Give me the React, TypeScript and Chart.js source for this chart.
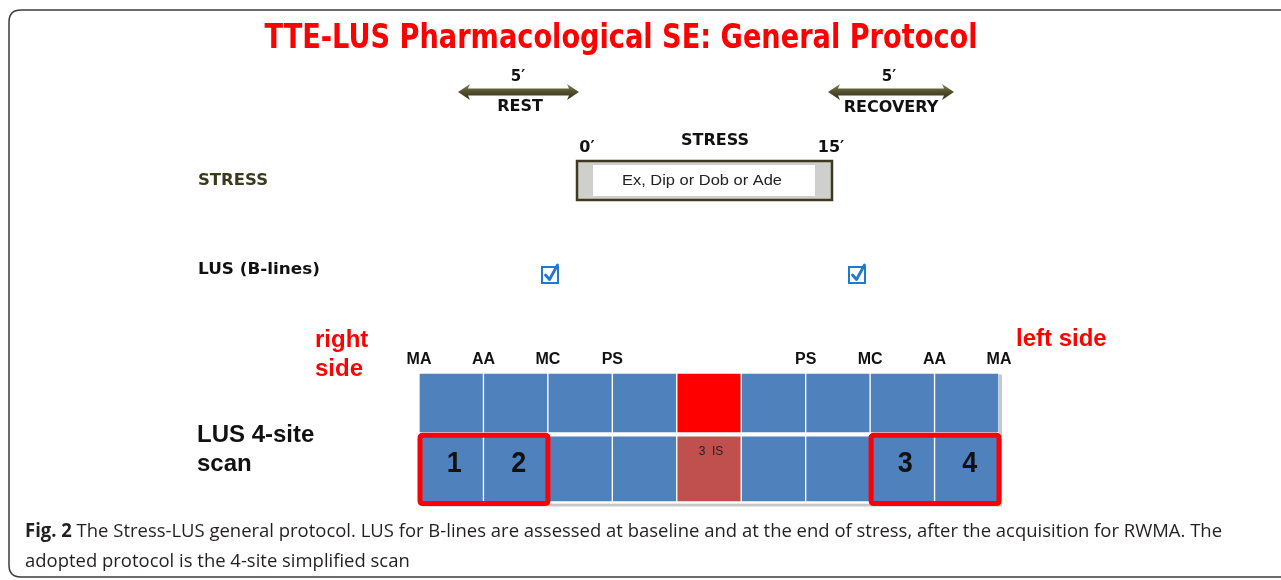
import React, { useEffect, useRef } from "react";
import { Chart, registerables } from "chart.js";

Chart.register(...registerables);

// ---- data ----
const tickLabels = ["MA", "AA", "MC", "PS", "", "", "PS", "MC", "AA", "MA"];
const topRowHeights = [1, 1, 1, 1, 1, 1, 1, 1, 1];
const bottomRowHeights = [1.1, 1.1, 1.1, 1.1, 1.1, 1.1, 1.1, 1.1, 1.1];
const BLUE = "#4F81BD";
const topRowColors = [BLUE, BLUE, BLUE, BLUE, "#FF0000", BLUE, BLUE, BLUE, BLUE];
const bottomRowColors = [BLUE, BLUE, BLUE, BLUE, "#C0504D", BLUE, BLUE, BLUE, BLUE];
const siteNumbers = ["1", "2", "", "", "", "", "", "3", "4"];
const cellNotes = ["", "", "", "", "3  IS", "", "", "", ""];
const highlightRanges: [number, number][] = [[0, 2], [7, 9]];

const titleText = "TTE-LUS Pharmacological SE: General Protocol";
const captionBold = "Fig. 2";
const captionLine1 = " The Stress-LUS general protocol. LUS for B-lines are assessed at baseline and at the end of stress, after the acquisition for RWMA. The";
const captionLine2 = "adopted protocol is the 4-site simplified scan";

const DV = "'DejaVu Sans', Verdana, sans-serif";
const LS = "'Liberation Sans', Arial, sans-serif";

function txt(
  ctx: CanvasRenderingContext2D,
  s: string,
  x: number,
  y: number,
  font: string,
  color: string,
  align: CanvasTextAlign = "left",
  width?: number
) {
  ctx.save();
  ctx.font = font;
  ctx.fillStyle = color;
  ctx.textBaseline = "middle";
  ctx.textAlign = align;
  ctx.translate(x, y);
  if (width) {
    const m = ctx.measureText(s).width;
    ctx.scale(width / m, 1);
  }
  ctx.fillText(s, 0, 0);
  ctx.restore();
}

function arrow(ctx: CanvasRenderingContext2D, x1: number, x2: number, y: number) {
  const head = 12, hh = 8, sh = 3.5;
  ctx.save();
  const g = ctx.createLinearGradient(0, y - hh, 0, y + hh);
  g.addColorStop(0, "#8a8560");
  g.addColorStop(0.45, "#55512f");
  g.addColorStop(1, "#2f2d18");
  ctx.fillStyle = g;
  ctx.beginPath();
  ctx.moveTo(x1, y);
  ctx.lineTo(x1 + head, y - hh);
  ctx.lineTo(x1 + head - 2, y - sh);
  ctx.lineTo(x2 - head + 2, y - sh);
  ctx.lineTo(x2 - head, y - hh);
  ctx.lineTo(x2, y);
  ctx.lineTo(x2 - head, y + hh);
  ctx.lineTo(x2 - head + 2, y + sh);
  ctx.lineTo(x1 + head - 2, y + sh);
  ctx.lineTo(x1 + head, y + hh);
  ctx.closePath();
  ctx.fill();
  ctx.restore();
}

function roundRect(ctx: CanvasRenderingContext2D, x: number, y: number, w: number, h: number, r: number) {
  ctx.beginPath();
  ctx.moveTo(x + r, y);
  ctx.lineTo(x + w - r, y);
  ctx.quadraticCurveTo(x + w, y, x + w, y + r);
  ctx.lineTo(x + w, y + h - r);
  ctx.quadraticCurveTo(x + w, y + h, x + w - r, y + h);
  ctx.lineTo(x + r, y + h);
  ctx.quadraticCurveTo(x, y + h, x, y + h - r);
  ctx.lineTo(x, y + r);
  ctx.quadraticCurveTo(x, y, x + r, y);
  ctx.closePath();
}

function checkbox(ctx: CanvasRenderingContext2D, cx: number, cy: number) {
  ctx.save();
  ctx.strokeStyle = "#1f78d1";
  ctx.lineWidth = 2;
  ctx.strokeRect(cx - 8, cy - 7, 16, 16);
  ctx.lineWidth = 2.8;
  ctx.lineCap = "round";
  ctx.lineJoin = "round";
  ctx.beginPath();
  ctx.moveTo(cx - 4.5, cy + 1);
  ctx.lineTo(cx - 0.5, cy + 5.5);
  ctx.lineTo(cx + 7.5, cy - 9);
  ctx.stroke();
  ctx.restore();
}

const diagramPlugin = {
  id: "diagram",
  beforeDatasetsDraw(chart: any) {
    const ctx: CanvasRenderingContext2D = chart.ctx;
    const xs = chart.scales.x;
    const ys = chart.scales.y;

    // frame
    ctx.save();
    ctx.strokeStyle = "#3c3c3c";
    ctx.lineWidth = 1.5;
    roundRect(ctx, 9, 10, 1300, 567, 12);
    ctx.stroke();
    ctx.restore();

    // title
    txt(ctx, titleText, 621, 39, `bold 33px ${DV}`, "#FF0000", "center", 713);

    // rest / recovery arrows
    arrow(ctx, 458, 579, 92);
    arrow(ctx, 828, 954, 92);
    txt(ctx, "5\u2032", 518, 77, `bold 15px ${DV}`, "#111", "center");
    txt(ctx, "REST", 520, 107, `bold 16px ${DV}`, "#111", "center");
    txt(ctx, "5\u2032", 889, 77, `bold 15px ${DV}`, "#111", "center");
    txt(ctx, "RECOVERY", 891, 108, `bold 16px ${DV}`, "#111", "center");

    // stress header
    txt(ctx, "STRESS", 715, 141, `bold 16px ${DV}`, "#111", "center");
    txt(ctx, "0\u2032", 587, 148, `bold 16px ${DV}`, "#111", "center");
    txt(ctx, "15\u2032", 831, 148, `bold 16px ${DV}`, "#111", "center");

    // stress box
    ctx.save();
    ctx.fillStyle = "#cfcfcb";
    ctx.fillRect(577, 161, 255, 39);
    ctx.fillStyle = "#ffffff";
    ctx.fillRect(593, 165, 222, 31);
    ctx.strokeStyle = "#3d3a22";
    ctx.lineWidth = 2.5;
    ctx.strokeRect(577, 161, 255, 39);
    ctx.restore();
    txt(ctx, "Ex, Dip or Dob or Ade", 702, 181, `15px ${LS}`, "#222", "center", 160);

    // left labels
    txt(ctx, "STRESS", 198, 181, `bold 16px ${DV}`, "#3a3a1c", "left", 70);
    txt(ctx, "LUS (B-lines)", 198, 270, `bold 16.5px ${DV}`, "#111", "left", 122);

    // checkboxes
    checkbox(ctx, 550, 274);
    checkbox(ctx, 857, 274);

    // sides
    txt(ctx, "right", 315, 340, `bold 24px ${LS}`, "#FF0000", "left");
    txt(ctx, "side", 315, 369, `bold 24px ${LS}`, "#FF0000", "left");
    txt(ctx, "left side", 1016, 339, `bold 24px ${LS}`, "#FF0000", "left");

    // LUS 4-site scan
    txt(ctx, "LUS 4-site", 197, 435, `bold 24px ${LS}`, "#111", "left");
    txt(ctx, "scan", 197, 464, `bold 24px ${LS}`, "#111", "left");

    // caption
    ctx.save();
    ctx.font = `bold 19px 'Open Sans', sans-serif`;
    const wb = ctx.measureText(captionBold).width;
    ctx.font = `19px 'Open Sans', sans-serif`;
    const w1 = ctx.measureText(captionLine1).width;
    const sc = (1222 - 25) / (wb + w1);
    ctx.restore();
    ctx.save();
    ctx.translate(25, 532);
    ctx.scale(sc, 1);
    ctx.textBaseline = "middle";
    ctx.fillStyle = "#231f20";
    ctx.font = `bold 19px 'Open Sans', sans-serif`;
    ctx.fillText(captionBold, 0, 0);
    ctx.font = `19px 'Open Sans', sans-serif`;
    ctx.fillText(captionLine1, wb, 0);
    ctx.fillText(captionLine2, 0, 30);
    ctx.restore();

    // grid shadow
    ctx.save();
    ctx.fillStyle = "rgba(0,0,0,0.22)";
    const gl = xs.getPixelForValue(0), gr = xs.getPixelForValue(9);
    const gt = ys.getPixelForValue(2.1), gb = ys.getPixelForValue(0);
    ctx.fillRect(gl + 3, gt + 3, gr - gl, gb - gt);
    ctx.fillStyle = "#ffffff";
    ctx.fillRect(gl, gt, gr - gl, gb - gt);
    ctx.restore();
  },
  afterDatasetsDraw(chart: any) {
    const ctx: CanvasRenderingContext2D = chart.ctx;
    const xs = chart.scales.x;
    const ys = chart.scales.y;
    const rowTop = ys.getPixelForValue(bottomRowHeights[0]);
    const rowBot = ys.getPixelForValue(0);
    // highlight boxes
    ctx.save();
    ctx.strokeStyle = "#FF0000";
    ctx.lineWidth = 5;
    for (const [a, b] of highlightRanges) {
      const x1 = xs.getPixelForValue(a) + 1;
      const x2 = xs.getPixelForValue(b);
      roundRect(ctx, x1, rowTop + 1, x2 - x1, rowBot - rowTop - 1, 3);
      ctx.stroke();
    }
    ctx.restore();
    // numbers
    siteNumbers.forEach((n, i) => {
      if (!n) return;
      const cx = xs.getPixelForValue(i + 0.5) + 3;
      txt(ctx, n, cx, rowTop + 29, `bold 30px ${LS}`, "#111", "center", 15);
    });
    cellNotes.forEach((n, i) => {
      if (!n) return;
      const cx = xs.getPixelForValue(i + 0.5) + 2;
      txt(ctx, n, cx, rowTop + 17, `12px ${LS}`, "#222", "center");
    });
  },
};

export default function App() {
  const ref = useRef<HTMLCanvasElement | null>(null);
  useEffect(() => {
    if (!ref.current) return;
    const common = {
      borderColor: "#ffffff",
      borderWidth: { left: 1, right: 1, top: 2.5, bottom: 2.5 },
      borderSkipped: false,
      barPercentage: 1,
      categoryPercentage: 1,
    };
    const chart = new Chart(ref.current, {
      type: "bar",
      data: {
        datasets: [
          {
            label: "bottom row",
            data: bottomRowHeights.map((v, i) => ({ x: i + 0.5, y: v })),
            backgroundColor: bottomRowColors,
            ...common,
          } as any,
          {
            label: "top row",
            data: topRowHeights.map((v, i) => ({ x: i + 0.5, y: v })),
            backgroundColor: topRowColors,
            ...common,
          } as any,
        ],
      },
      options: {
        responsive: false,
        animation: false,
        events: [],
        layout: { padding: { left: 419, right: 282, top: 341.5, bottom: 76.5 } },
        plugins: { legend: { display: false }, tooltip: { enabled: false } },
        scales: {
          x: {
            type: "linear",
            position: "top",
            stacked: true,
            min: 0,
            max: 9,
            offset: false,
            grid: { display: false, drawTicks: false },
            border: { display: false },
            ticks: {
              stepSize: 1,
              autoSkip: false,
              maxRotation: 0,
              padding: 2,
              color: "#111",
              font: { family: "'Liberation Sans', Arial, sans-serif", weight: "bold", size: 16 },
              callback: (v: any) => tickLabels[Math.round(Number(v))] ?? "",
            },
            afterFit: (s: any) => {
              s.height = 30;
            },
          },
          y: { stacked: true, min: 0, max: 2.1, display: false },
        },
      } as any,
      plugins: [diagramPlugin],
    });
    return () => chart.destroy();
  }, []);
  return (
    <div style={{ position: "fixed", left: 0, top: 0, width: 1281, height: 580, background: "#fff" }}>
      <canvas ref={ref} width={1281} height={580} style={{ display: "block" }} />
    </div>
  );
}
